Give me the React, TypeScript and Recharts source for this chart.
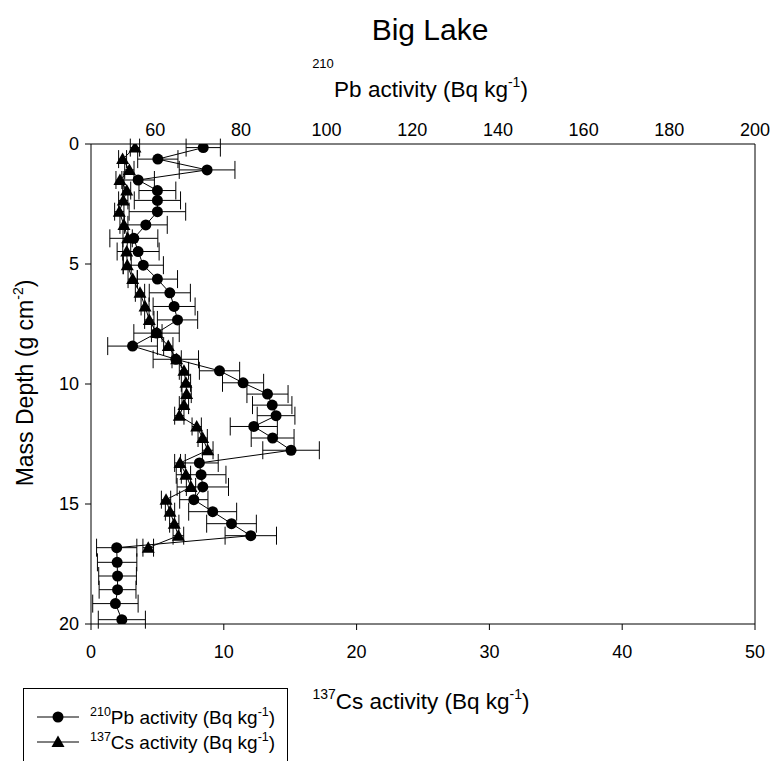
import React from 'react';
import { ScatterChart, Scatter, XAxis, YAxis, ErrorBar, ReferenceLine } from 'recharts';

// Mass depth (g cm-2) of each sampled slice
const depths = [
  0.15, 0.63, 1.08, 1.5, 1.94, 2.35, 2.82, 3.37, 3.93, 4.48,
  5.05, 5.63, 6.2, 6.77, 7.33, 7.88, 8.42, 8.97, 9.45, 9.95,
  10.42, 10.88, 11.32, 11.77, 12.25, 12.76, 13.29, 13.78, 14.29, 14.82,
  15.32, 15.82, 16.32, 16.82, 17.43, 18.0, 18.57, 19.15, 19.82,
];

// 210Pb activity (Bq kg-1)
const pbActivity = [
  71.2, 60.6, 72.1, 56.0, 60.5, 60.5, 60.5, 57.8, 55.0, 56.0,
  57.2, 60.5, 63.4, 64.4, 65.2, 60.3, 54.7, 64.8, 75.0, 80.5,
  86.2, 87.3, 88.2, 83.0, 87.4, 91.7, 70.3, 70.7, 71.1, 69.0,
  73.4, 77.8, 82.3, 51.0, 51.1, 51.2, 51.2, 50.7, 52.2,
];
const pbError = [
  4.0, 4.7, 6.5, 3.8, 4.3, 5.4, 6.6, 5.0, 5.6, 4.9,
  4.7, 4.7, 4.8, 4.9, 4.7, 5.3, 5.8, 5.3, 4.7, 4.8,
  4.8, 4.6, 4.4, 5.5, 5.0, 6.6, 4.4, 5.8, 6.0, 3.3,
  5.6, 5.8, 6.0, 4.7, 4.6, 4.4, 4.3, 5.3, 5.5,
];

// 137Cs activity (Bq kg-1)
const csActivity = [
  3.31, 2.38, 2.89, 2.18, 2.69, 2.43, 2.13, 2.48, 2.76, 2.69,
  2.73, 3.14, 3.69, 4.07, 4.39, 4.95, 5.82, 6.45, 7.0, 7.15,
  7.2, 7.0, 6.65, 7.96, 8.41, 8.79, 6.7, 7.15, 7.53, 5.65,
  5.95, 6.27, 6.58, 4.31,
];
const csError = [
  0.35, 0.3, 0.35, 0.3, 0.3, 0.35, 0.35, 0.3, 0.35, 0.3,
  0.3, 0.35, 0.35, 0.3, 0.35, 0.4, 0.35, 0.35, 0.35, 0.35,
  0.35, 0.35, 0.35, 0.35, 0.35, 0.4, 0.4, 0.35, 0.35, 0.35,
  0.35, 0.35, 0.4, 0.4,
];

const pbTicks = [60, 80, 100, 120, 140, 160, 180, 200];
const csTicks = [0, 10, 20, 30, 40, 50];
const depthTicks = [0, 5, 10, 15, 20];

const pbData = depths.map((d, i) => ({ depth: d, pb: pbActivity[i], err: pbError[i] }));
const csData = csActivity.map((v, i) => ({ depth: depths[i], cs: v, err: csError[i] }));

const FONT = '"Liberation Sans", Arial, Helvetica, sans-serif';
const tickStyle = { fontSize: 18, fill: '#000', fontFamily: FONT };

const CircleShape = (p: any) => <circle cx={p.cx} cy={p.cy} r={5.5} fill="#000" stroke="none" />;
const TriangleShape = (p: any) => (
  <path
    d={`M${p.cx},${p.cy - 6.5} L${p.cx + 6.5},${p.cy + 5} L${p.cx - 6.5},${p.cy + 5} Z`}
    fill="#000"
    stroke="none"
  />
);

export default function App() {
  return (
    <div style={{ position: 'fixed', left: 0, top: 0, width: 772, height: 761, overflow: 'hidden', background: '#fff' }}>
      <ScatterChart
        width={772}
        height={761}
        margin={{ top: 114, right: 17, bottom: 107, left: 31 }}
        style={{ fontFamily: FONT }}
      >
        <XAxis
          xAxisId="cs"
          dataKey="cs"
          type="number"
          orientation="bottom"
          domain={[0, 50]}
          ticks={csTicks}
          allowDataOverflow
          height={30}
          tick={tickStyle}
          tickSize={6}
          tickMargin={15}
          stroke="#000"
          axisLine={{ stroke: '#000' }}
          tickLine={{ stroke: '#000' }}
        />
        <XAxis
          xAxisId="pb"
          dataKey="pb"
          type="number"
          orientation="top"
          domain={[45, 200]}
          ticks={pbTicks}
          allowDataOverflow
          height={30}
          tick={tickStyle}
          tickSize={6}
          tickMargin={2}
          tickLine={false}
          axisLine={{ stroke: '#000' }}
        />
        <YAxis
          dataKey="depth"
          type="number"
          domain={[0, 20]}
          ticks={depthTicks}
          reversed
          allowDataOverflow
          width={60}
          tick={tickStyle}
          tickSize={6}
          tickMargin={6}
          axisLine={{ stroke: '#000' }}
          tickLine={{ stroke: '#000' }}
        />
        <ReferenceLine xAxisId="cs" x={50} stroke="#000" strokeWidth={1} />
        <Scatter
          xAxisId="pb"
          data={pbData}
          isAnimationActive={false}
          line={{ stroke: '#000', strokeWidth: 1 }}
          shape={CircleShape}
          fill="#000"
        >
          <ErrorBar dataKey="err" direction="x" width={9} stroke="#000" strokeWidth={1} isAnimationActive={false} />
        </Scatter>
        <Scatter
          xAxisId="cs"
          data={csData}
          isAnimationActive={false}
          line={{ stroke: '#000', strokeWidth: 1 }}
          shape={TriangleShape}
          fill="#000"
        >
          <ErrorBar dataKey="err" direction="x" width={9} stroke="#000" strokeWidth={1} isAnimationActive={false} />
        </Scatter>
      </ScatterChart>

      <svg
        width={772}
        height={761}
        style={{ position: 'absolute', left: 0, top: 0, pointerEvents: 'none' }}
        fontFamily={FONT}
      >
        <text x={430} y={40} textAnchor="middle" fontSize={30} fill="#000">Big Lake</text>

        <text x={323} y={68} textAnchor="middle" fontSize={13} fill="#000">210</text>
        <text x={431} y={97} textAnchor="middle" fontSize={22.5} fill="#000">
          <tspan>Pb activity (Bq kg</tspan>
          <tspan fontSize={14} dy={-10}>-1</tspan>
          <tspan dy={10}>)</tspan>
        </text>

        <text x={421} y={709} textAnchor="middle" fontSize={22.5} fill="#000">
          <tspan fontSize={14} dy={-10}>137</tspan>
          <tspan dy={10}>Cs activity (Bq kg</tspan>
          <tspan fontSize={14} dy={-10}>-1</tspan>
          <tspan dy={10}>)</tspan>
        </text>

        <text x={33} y={383} textAnchor="middle" fontSize={23} fill="#000" transform="rotate(-90 33 383)">
          <tspan>Mass Depth (g cm</tspan>
          <tspan fontSize={14} dy={-10}>-2</tspan>
          <tspan dy={10}>)</tspan>
        </text>

        <rect x={23.5} y={688.5} width={264} height={90} fill="none" stroke="#000" strokeWidth={1} />
        <line x1={37} y1={717} x2={79} y2={717} stroke="#000" strokeWidth={1} />
        <circle cx={58} cy={717} r={5.5} fill="#000" />
        <text x={90} y={724} fontSize={19} fill="#000">
          <tspan fontSize={12.5} dy={-8}>210</tspan>
          <tspan dy={8}>Pb activity (Bq kg</tspan>
          <tspan fontSize={12.5} dy={-8}>-1</tspan>
          <tspan dy={8}>)</tspan>
        </text>
        <line x1={37} y1={742} x2={79} y2={742} stroke="#000" strokeWidth={1} />
        <path d="M58,735.5 L64.5,747 L51.5,747 Z" fill="#000" />
        <text x={90} y={749} fontSize={19} fill="#000">
          <tspan fontSize={12.5} dy={-8}>137</tspan>
          <tspan dy={8}>Cs activity (Bq kg</tspan>
          <tspan fontSize={12.5} dy={-8}>-1</tspan>
          <tspan dy={8}>)</tspan>
        </text>
      </svg>
    </div>
  );
}
